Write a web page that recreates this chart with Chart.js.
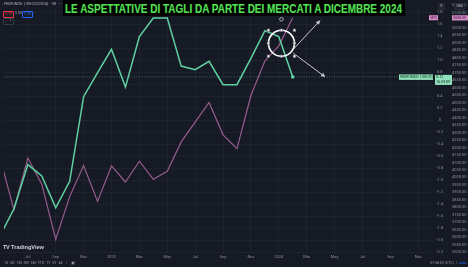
<!DOCTYPE html>
<html>
<head>
<meta charset="utf-8">
<script src="https://cdn.jsdelivr.net/npm/chart.js@4.4.1/dist/chart.umd.min.js"></script>
<style>
  html, body { margin: 0; padding: 0; background: #161a25; }
  #wrap { position: relative; width: 468px; height: 267px; overflow: hidden; background: #161a25;
          font-family: Roboto, 'Liberation Sans', sans-serif; }
  #chart { position: absolute; left: 0; top: 0; }
  .ov { position: absolute; white-space: nowrap; line-height: 1; }
  #title { left: 63px; top: 0; width: 342px; height: 16px; background: #000; }
  #title span { position: absolute; left: 2px; top: 2px; font: bold 12px 'Liberation Sans', Arial, sans-serif;
                color: #55e055; transform-origin: 0 0; text-shadow: 0 0 1px #0a3a0a; }
  .tiny { font-size: 3.6px; color: #b2b5be; }
  .box { border: 0.6px solid; border-radius: 1px; padding: 0.6px 1.4px; font-size: 3.4px; }
</style>
</head>
<body>
<div id="wrap">
  <canvas id="chart" width="468" height="267"></canvas>

  <div id="title" class="ov"><span>LE ASPETTATIVE DI TAGLI DA PARTE DEI MERCATI A DICEMBRE 2024</span></div>

  <div class="ov tiny" style="left:2px;top:3px;">◦ FEDFUNDS- (100-ZQZ2024) · 1W &nbsp;···</div>
  <div class="ov box" style="left:3px;top:11px;color:#f23645;border-color:#f23645;">0.70</div>
  <div class="ov tiny" style="left:15px;top:12px;color:#9598a1;">0.00</div>
  <div class="ov box" style="left:22px;top:11px;color:#2962ff;border-color:#2962ff;">0.70</div>
  <div class="ov box" style="left:3px;top:18px;color:#9598a1;border-color:#363a45;">⌄ 1</div>

  <div class="ov box" style="left:438px;top:3px;color:#d1d4dc;border-color:#2a2e39;background:#1e222d;">0</div>
  <div class="ov box" style="left:454px;top:3px;color:#d1d4dc;border-color:#2a2e39;background:#1e222d;">USD</div>

  <div class="ov" style="left:3px;top:244px;font:bold 5.6px 'Liberation Sans',Arial,sans-serif;color:#d1d4dc;">
    <span style="font-weight:900;letter-spacing:-0.3px;">TV</span> TradingView</div>

  <div class="ov tiny" style="left:4px;top:262px;color:#9598a1;word-spacing:1px;">1D 5D 1M 3M 6M YTD 1Y 5Y All &nbsp;| &nbsp;▣</div>
  <div class="ov tiny" style="left:430px;top:262px;color:#9598a1;">07:58:53 (UTC) &nbsp;|</div>
  <div class="ov tiny" style="left:459px;top:262px;color:#2962ff;">auto</div>
</div>

<script>
// monthly points, Jan 2022 = month index 0
const months = ['2022-05', '2022-06', '2022-07', '2022-08', '2022-09', '2022-10', '2022-11', '2022-12',
  '2023-01', '2023-02', '2023-03', '2023-04', '2023-05', '2023-06', '2023-07', '2023-08', '2023-09',
  '2023-10', '2023-11', '2023-12', '2024-01', '2024-02'];

// FEDFUNDS - (100 - ZQZ2024), left scale (%)
const cutsExpected = [-1.93, -1.48, -0.74, -0.93, -1.46, -1.02, 0.39, 0.79, 1.18, 0.55, 1.39, 1.70,
  1.70, 0.90, 0.84, 0.98, 0.59, 0.59, 1.03, 1.49, 1.39, 0.72];

// second series (pink), right price scale
const spx = [4132, 3785, 4130, 3955, 3586, 3872, 4080, 3840, 4077, 3970, 4109, 3988,
  4041, 4238, 4370, 4502, 4285, 4193, 4548, 4778, 4880, 5068];

const monthNames = ['', 'Feb', 'Mar', 'Apr', 'May', 'Jun', 'Jul', 'Aug', 'Sep', 'Oct', 'Nov', 'Dec'];

// hand drawings on the chart, in data units (month index, %)
const circleAt = { x: 24.19, y: 1.28 };
const arrowUp = { from: [25.04, 1.18], to: [26.96, 1.66] };
const arrowDown = { from: [25.04, 1.115], to: [27.32, 0.721] };

const GREEN = '#5fd1a2';
const PINK = '#975c8e';

function monthIndex(s) {
  const [y, m] = s.split('-').map(Number);
  return (y - 2022) * 12 + (m - 1);
}

const greenPts = months.map((m, i) => ({ x: monthIndex(m), y: cutsExpected[i] }));
const pinkPts = months.map((m, i) => ({ x: monthIndex(m), y: spx[i] }));

function drawArrow(ctx, x1, y1, x2, y2) {
  ctx.beginPath();
  ctx.moveTo(x1, y1);
  ctx.lineTo(x2, y2);
  ctx.stroke();
  const a = Math.atan2(y2 - y1, x2 - x1), h = 4.5;
  ctx.beginPath();
  ctx.moveTo(x2, y2);
  ctx.lineTo(x2 - h * Math.cos(a - 0.5), y2 - h * Math.sin(a - 0.5));
  ctx.lineTo(x2 - h * Math.cos(a + 0.5), y2 - h * Math.sin(a + 0.5));
  ctx.closePath();
  ctx.fill();
}

function labelBox(ctx, x, y, w, h, bg, lines, color) {
  ctx.fillStyle = bg;
  ctx.fillRect(x, y, w, h);
  ctx.fillStyle = color;
  ctx.font = '3.6px Roboto, sans-serif';
  ctx.textBaseline = 'middle';
  ctx.textAlign = 'left';
  lines.forEach((t, i) => ctx.fillText(t, x + 1.2, y + (i + 0.5) * (h / lines.length)));
}

const overlay = {
  id: 'overlay',
  afterDatasetsDraw(chart) {
    const { ctx, chartArea: a, scales: { x, y } } = chart;
    const last = cutsExpected[cutsExpected.length - 1];
    ctx.save();
    // price line of the green series
    ctx.strokeStyle = 'rgba(95,209,162,0.55)';
    ctx.lineWidth = 0.8;
    ctx.setLineDash([1, 1.5]);
    ctx.beginPath();
    ctx.moveTo(a.left, y.getPixelForValue(last));
    ctx.lineTo(a.right, y.getPixelForValue(last));
    ctx.stroke();
    ctx.setLineDash([]);

    // arrows
    ctx.strokeStyle = '#c9cbd1';
    ctx.fillStyle = '#c9cbd1';
    ctx.lineWidth = 1;
    [arrowUp, arrowDown].forEach(ar => drawArrow(ctx,
      x.getPixelForValue(ar.from[0]), y.getPixelForValue(ar.from[1]),
      x.getPixelForValue(ar.to[0]), y.getPixelForValue(ar.to[1])));

    // circle with selection handles
    const cx = x.getPixelForValue(circleAt.x), cy = y.getPixelForValue(circleAt.y), r = 13;
    ctx.strokeStyle = '#ffffff';
    ctx.lineWidth = 1.6;
    ctx.beginPath();
    ctx.arc(cx, cy, r, 0, Math.PI * 2);
    ctx.stroke();
    ctx.lineWidth = 0.6;
    ctx.strokeStyle = '#5a5e68';
    ctx.fillStyle = '#ffffff';
    [-1, 0, 1].forEach(i => [-1, 0, 1].forEach(j => {
      if (i === 0 && j === 0) return;
      ctx.fillRect(cx + i * r - 1.3, cy + j * r - 1.3, 2.6, 2.6);
      ctx.strokeRect(cx + i * r - 1.3, cy + j * r - 1.3, 2.6, 2.6);
    }));
    ctx.strokeStyle = '#d1d4dc';
    ctx.lineWidth = 0.8;
    ctx.beginPath();
    ctx.arc(cx, cy - r - 11, 1.8, 0, Math.PI * 2);
    ctx.stroke();
    ctx.restore();
  },
  afterDraw(chart) {
    const { ctx, chartArea: a, scales: { y, y2 } } = chart;
    ctx.save();
    const gy = y.getPixelForValue(cutsExpected[cutsExpected.length - 1]);
    labelBox(ctx, 399, gy - 2.5, a.right - 399, 5.5, '#8fe0bb', ['FEDFUNDS- (100-ZQZ2024)'], '#10251b');
    labelBox(ctx, a.right + 2, gy - 2, 17, 10, '#8fe0bb',
      [cutsExpected[cutsExpected.length - 1].toFixed(2), '16:59:09'], '#10251b');
    const py = y2.getPixelForValue(spx[spx.length - 1]);
    labelBox(ctx, a.right - 4, py - 2.5, 9, 5, '#dc8fcf', ['SPX'], '#2a0f26');
    labelBox(ctx, y2.left + 2, py - 2.5, 16, 5, '#dc8fcf', [spx[spx.length - 1].toFixed(2)], '#2a0f26');
    ctx.restore();
  }
};

const tickFont = { family: 'Roboto, sans-serif', size: 4 };
const gridColor = 'rgba(255,255,255,0.035)';

new Chart(document.getElementById('chart'), {
  type: 'line',
  data: {
    datasets: [
      {
        label: 'FEDFUNDS- (100-ZQZ2024)',
        data: greenPts,
        yAxisID: 'y',
        borderColor: GREEN,
        backgroundColor: GREEN,
        borderWidth: 1.5,
        tension: 0,
        pointRadius: ctx => (ctx.dataIndex === greenPts.length - 1 ? 1.8 : 0),
        pointBorderWidth: 0,
        order: 0
      },
      {
        label: 'SPX',
        data: pinkPts,
        yAxisID: 'y2',
        borderColor: PINK,
        borderWidth: 1.2,
        tension: 0,
        pointRadius: 0,
        order: 1
      }
    ]
  },
  options: {
    responsive: false,
    animation: false,
    events: [],
    layout: { padding: { left: 0, right: 0, top: 0, bottom: 7 } },
    plugins: { legend: { display: false }, tooltip: { enabled: false } },
    scales: {
      x: {
        type: 'linear',
        min: 4.29,
        max: 35.06,
        grid: { color: gridColor, drawTicks: false },
        border: { display: false },
        ticks: {
          stepSize: 2,
          autoSkip: false,
          maxRotation: 0,
          includeBounds: false,
          padding: 1.5,
          color: '#8a8e98',
          font: tickFont,
          callback: v => (v % 12 === 0 ? String(2022 + v / 12) : monthNames[v % 12])
        },
        afterFit: s => { s.height = 7; s.paddingLeft = 0; s.paddingRight = 0; }
      },
      y: {
        position: 'right',
        weight: 0,
        min: -2.213,
        max: 1.934,
        grid: { color: gridColor, drawTicks: false },
        border: { display: false },
        ticks: {
          stepSize: 0.2,
          autoSkip: false,
          includeBounds: false,
          crossAlign: 'center',
          padding: 3.5,
          color: '#8a8e98',
          font: tickFont
        },
        afterFit: s => { s.width = 17; s.paddingTop = 0; s.paddingBottom = 0; }
      },
      y2: {
        position: 'right',
        weight: 1,
        min: 3495,
        max: 5160,
        grid: { display: false, drawTicks: false },
        border: { display: false },
        ticks: {
          stepSize: 50,
          autoSkip: false,
          includeBounds: false,
          crossAlign: 'center',
          padding: 2,
          color: '#8a8e98',
          font: tickFont,
          callback: v => Number(v).toFixed(2)
        },
        afterFit: s => { s.width = 18; s.paddingTop = 0; s.paddingBottom = 0; }
      }
    }
  },
  plugins: [overlay]
});

// squeeze the title into its black box like the original screenshot
const span = document.querySelector('#title span');
span.style.transform = 'scaleX(' + (337 / span.getBoundingClientRect().width) + ')';
</script>
</body>
</html>
